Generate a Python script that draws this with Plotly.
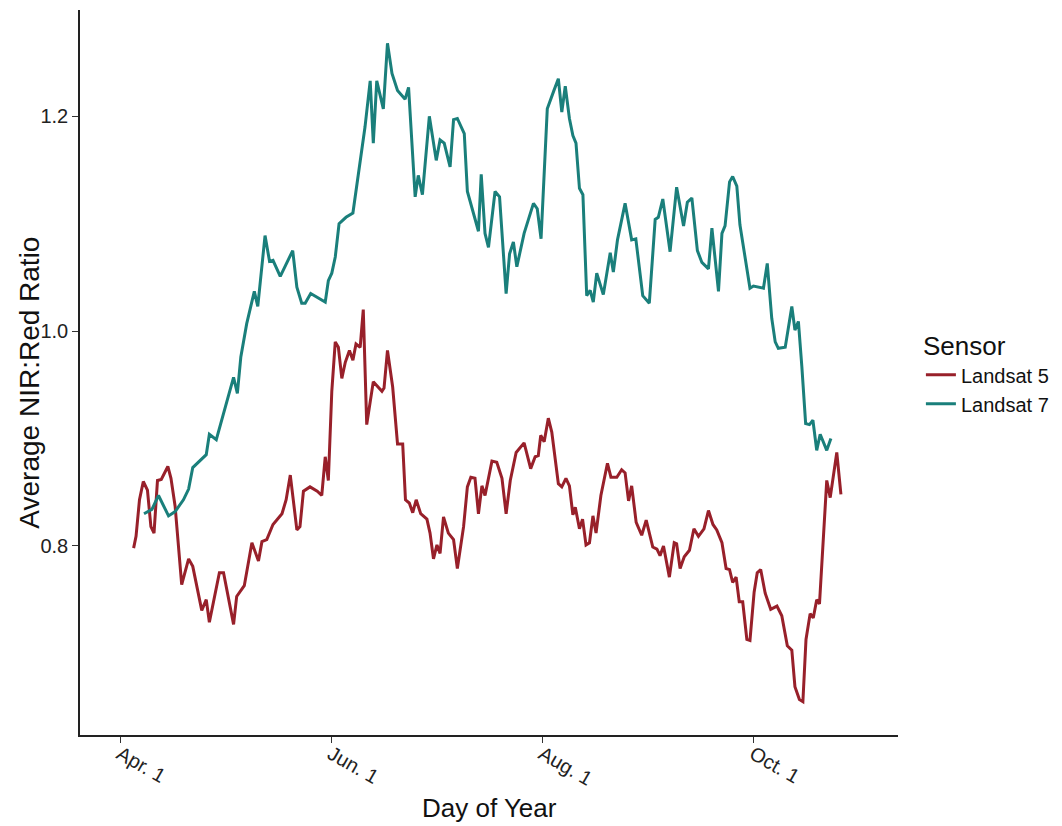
import plotly.graph_objects as go

# Landsat 7 (teal)
l7_day = [97.9, 100.2, 102.1, 105.0, 106.9, 109.3, 110.8, 112.0, 115.9, 116.8, 118.8, 123.8, 124.9, 125.9,
          127.6, 129.8, 130.8, 132.9, 134.2, 135.2, 137.3, 140.9, 142.1, 143.5, 144.5, 146.1, 150.3, 151.2,
          152.2, 153.2, 154.3, 156.3, 158.3, 160.4, 161.8, 163.3, 164.2, 165.2, 167.1, 168.3, 169.6, 171.2,
          173.4, 174.4, 176.3, 177.2, 178.4, 180.4, 182.4, 183.5, 184.7, 186.4, 187.4, 188.5, 190.5, 191.4,
          194.6, 195.4, 196.5, 197.5, 199.4, 200.7, 202.6, 203.6, 204.7, 205.7, 207.8, 210.5, 211.6, 212.7,
          214.5, 216.3, 217.7, 218.7, 219.7, 220.9, 221.9, 222.8, 223.8, 224.8, 225.9, 226.9, 227.8, 228.8,
          230.7, 232.7, 233.6, 234.8, 237.0, 238.9, 240.1, 242.1, 244.0, 245.7, 246.6, 247.9, 250.0, 251.9,
          253.9, 255.0, 256.3, 257.9, 259.2, 261.1, 262.1, 264.0, 265.0, 265.9, 267.2, 268.1, 269.3, 270.2,
          273.1, 274.1, 277.0, 278.1, 279.4, 280.4, 281.3, 283.3, 285.2, 286.1, 287.1, 288.1, 289.2, 290.3,
          291.3, 292.4, 293.4, 295.3, 296.5]
l7_val = [0.830, 0.834, 0.847, 0.828, 0.832, 0.843, 0.853, 0.873, 0.885, 0.904, 0.899, 0.957, 0.942, 0.976,
          1.007, 1.037, 1.023, 1.089, 1.065, 1.066, 1.051, 1.075, 1.041, 1.026, 1.026, 1.035, 1.027, 1.047,
          1.054, 1.069, 1.100, 1.106, 1.110, 1.156, 1.190, 1.233, 1.175, 1.233, 1.207, 1.268, 1.240, 1.224,
          1.216, 1.227, 1.125, 1.145, 1.127, 1.200, 1.159, 1.178, 1.175, 1.153, 1.197, 1.198, 1.184, 1.130,
          1.093, 1.146, 1.091, 1.078, 1.130, 1.125, 1.035, 1.072, 1.083, 1.060, 1.091, 1.119, 1.114, 1.086,
          1.207, 1.223, 1.235, 1.204, 1.228, 1.198, 1.182, 1.175, 1.133, 1.127, 1.033, 1.038, 1.027, 1.054,
          1.034, 1.073, 1.055, 1.085, 1.119, 1.085, 1.086, 1.033, 1.026, 1.104, 1.106, 1.123, 1.074, 1.134,
          1.098, 1.120, 1.124, 1.075, 1.064, 1.058, 1.096, 1.037, 1.091, 1.098, 1.139, 1.144, 1.135, 1.099,
          1.040, 1.042, 1.040, 1.063, 1.012, 0.990, 0.984, 0.985, 1.023, 1.001, 1.009, 0.967, 0.914, 0.913,
          0.917, 0.889, 0.904, 0.889, 0.900]

# Landsat 5 (red)
l5_day = [94.9, 95.6, 96.6, 97.7, 98.9, 99.9, 100.8, 101.8, 102.9, 104.8, 105.7, 106.9, 108.8, 110.8,
          112.0, 114.6, 115.9, 116.8, 119.7, 120.9, 123.8, 124.7, 126.9, 129.1, 131.0, 132.0, 133.4, 135.2,
          137.8, 139.0, 140.2, 142.1, 143.0, 144.0, 145.9, 148.0, 149.3, 150.3, 151.2, 152.2, 153.2, 154.1,
          155.1, 156.1, 157.3, 158.3, 159.2, 160.4, 161.3, 162.3, 164.2, 166.7, 167.3, 168.3, 169.8, 171.2,
          172.7, 173.5, 174.6, 175.6, 176.6, 177.9, 179.7, 180.6, 181.6, 182.6, 183.5, 184.5, 185.9, 187.4,
          188.5, 190.3, 191.4, 192.4, 193.6, 194.6, 195.6, 196.5, 198.5, 199.9, 201.4, 202.6, 203.8, 205.5,
          207.8, 209.7, 211.0, 211.9, 212.6, 213.6, 214.8, 215.8, 217.7, 218.7, 219.9, 220.9, 221.9, 222.6,
          223.8, 224.7, 225.7, 226.7, 227.7, 228.6, 230.0, 231.9, 232.9, 234.6, 236.0, 237.0, 238.0, 238.9,
          240.2, 241.8, 243.1, 245.0, 246.2, 247.1, 248.1, 249.8, 251.2, 251.9, 252.9, 254.1, 255.6, 256.9,
          258.2, 259.8, 261.1, 262.4, 263.5, 265.0, 266.2, 267.2, 268.1, 269.1, 270.0, 271.0, 272.2, 273.1,
          274.3, 275.2, 276.2, 277.5, 279.1, 280.9, 282.3, 283.9, 285.2, 286.1, 287.4, 288.4, 289.3, 290.5,
          291.4, 292.4, 293.2, 295.3, 296.3, 298.2, 299.4]
l5_val = [0.798, 0.809, 0.843, 0.860, 0.852, 0.818, 0.812, 0.861, 0.862, 0.874, 0.863, 0.837, 0.764, 0.788,
          0.781, 0.740, 0.750, 0.729, 0.775, 0.775, 0.727, 0.753, 0.763, 0.803, 0.786, 0.804, 0.806, 0.820,
          0.830, 0.843, 0.866, 0.815, 0.818, 0.851, 0.855, 0.851, 0.847, 0.883, 0.861, 0.944, 0.990, 0.985,
          0.956, 0.971, 0.982, 0.973, 0.988, 0.985, 1.020, 0.913, 0.953, 0.944, 0.947, 0.982, 0.948, 0.895,
          0.895, 0.843, 0.840, 0.831, 0.843, 0.830, 0.825, 0.812, 0.788, 0.801, 0.793, 0.827, 0.812, 0.806,
          0.779, 0.818, 0.855, 0.864, 0.863, 0.830, 0.856, 0.847, 0.879, 0.878, 0.863, 0.830, 0.861, 0.887,
          0.896, 0.872, 0.883, 0.884, 0.903, 0.897, 0.919, 0.906, 0.858, 0.855, 0.863, 0.856, 0.829, 0.836,
          0.816, 0.825, 0.801, 0.803, 0.828, 0.812, 0.847, 0.877, 0.864, 0.864, 0.871, 0.868, 0.842, 0.856,
          0.822, 0.810, 0.824, 0.799, 0.797, 0.791, 0.800, 0.771, 0.803, 0.802, 0.779, 0.790, 0.796, 0.816,
          0.809, 0.816, 0.833, 0.820, 0.815, 0.803, 0.779, 0.778, 0.766, 0.771, 0.748, 0.748, 0.713, 0.712,
          0.757, 0.775, 0.778, 0.756, 0.741, 0.744, 0.735, 0.707, 0.703, 0.669, 0.657, 0.655, 0.713, 0.737,
          0.733, 0.750, 0.746, 0.861, 0.845, 0.887, 0.848]

x_tickvals = [91, 152, 213, 274]
x_ticktext = ["Apr. 1", "Jun. 1", "Aug. 1", "Oct. 1"]
y_tickvals = [0.8, 1.0, 1.2]
y_ticktext = ["0.8", "1.0", "1.2"]

RED = "#98202A"
TEAL = "#1A7F7B"
FONT = "Liberation Sans, Arial, sans-serif"

fig = go.Figure()
fig.add_trace(go.Scatter(x=l5_day, y=l5_val, mode="lines", name="Landsat 5",
                         line=dict(color=RED, width=3)))
fig.add_trace(go.Scatter(x=l7_day, y=l7_val, mode="lines", name="Landsat 7",
                         line=dict(color=TEAL, width=3)))

fig.update_layout(
    width=1062, height=826,
    margin=dict(l=72, r=172, t=2, b=99),
    paper_bgcolor="white", plot_bgcolor="white",
    font=dict(family=FONT, color="#222222"),
    showlegend=True,
    legend=dict(
        title=dict(text="Sensor", font=dict(size=26, color="#111111")),
        font=dict(size=20, color="#111111"),
        x=1.028, xanchor="left", y=0.5, yanchor="middle",
        bgcolor="rgba(0,0,0,0)", itemwidth=30, tracegroupgap=0,
    ),
    xaxis=dict(
        range=[79.4, 315.9], tickvals=x_tickvals, ticktext=x_ticktext,
        tickangle=30, ticks="outside", ticklen=6, tickwidth=1.2, tickcolor="#333333",
        ticklabelstandoff=-8,
        showline=True, linecolor="#222222", linewidth=1.5, showgrid=False, zeroline=False,
        tickfont=dict(size=20, color="#222222", family=FONT),
    ),
    yaxis=dict(
        range=[0.624, 1.299], tickvals=y_tickvals, ticktext=y_ticktext,
        ticks="outside", ticklen=6, tickwidth=1.2, tickcolor="#333333",
        showline=True, linecolor="#222222", linewidth=1.5, showgrid=False, zeroline=False,
        tickfont=dict(size=20, color="#222222", family=FONT),
    ),
    annotations=[
        dict(text="Day of Year", xref="paper", yref="paper", x=0.501, y=0,
             xanchor="center", yanchor="middle", yshift=-73, showarrow=False,
             font=dict(size=26, color="#111111", family=FONT)),
        dict(text="Average NIR:Red Ratio", xref="paper", yref="paper", x=0, y=0.486,
             xanchor="center", yanchor="middle", xshift=-50, textangle=-90, showarrow=False,
             font=dict(size=28, color="#111111", family=FONT)),
    ],
)

fig.write_html("out.html")
